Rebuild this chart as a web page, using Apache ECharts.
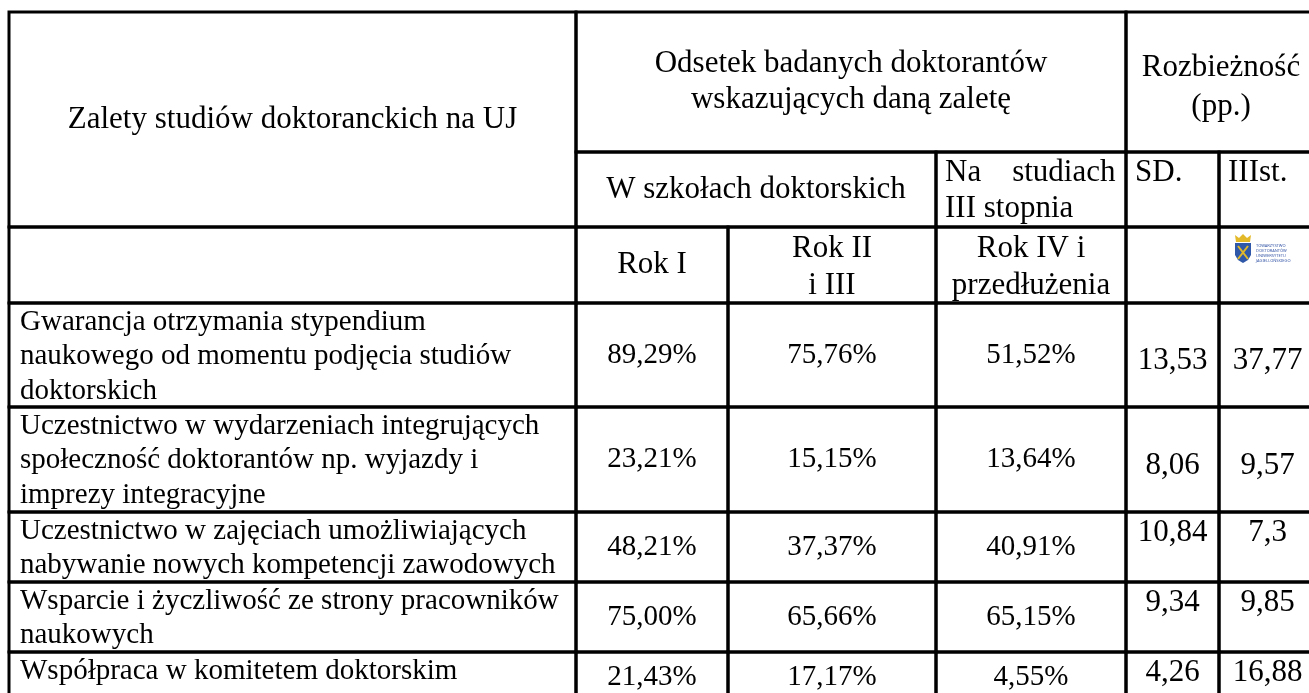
<!DOCTYPE html>
<html>
<head>
<meta charset="utf-8">
<script src="https://cdn.jsdelivr.net/npm/echarts@6/dist/echarts.min.js"></script>
<style>
  html, body { margin: 0; padding: 0; background: #fff; }
  #main { width: 1309px; height: 693px; }
</style>
</head>
<body>
<div id="main"></div>
<script>
// naglowki tabeli
var headTop = ['Zalety studiów doktoranckich na UJ', 'Odsetek badanych doktorantów\nwskazujących daną zaletę', 'Rozbieżność\n(pp.)'];
var headGroup = ['W szkołach doktorskich', 'Na    studiach\nIII stopnia', 'SD.', 'IIIst.'];
var headYear = ['Rok I', 'Rok II\ni III', 'Rok IV i\nprzedłużenia'];

// dane
var advantages = [
	'Gwarancja otrzymania stypendium\nnaukowego od momentu podjęcia studiów\ndoktorskich',
	'Uczestnictwo w wydarzeniach integrujących\nspołeczność doktorantów np. wyjazdy i\nimprezy integracyjne',
	'Uczestnictwo w zajęciach umożliwiających\nnabywanie nowych kompetencji zawodowych',
	'Wsparcie i życzliwość ze strony pracowników\nnaukowych',
	'Współpraca w komitetem doktorskim'
];
var rok1 = [89.29, 23.21, 48.21, 75.00, 21.43];
var rok23 = [75.76, 15.15, 37.37, 65.66, 17.17];
var rok4 = [51.52, 13.64, 40.91, 65.15, 4.55];
var diffSD = [13.53, 8.06, 10.84, 9.34, 4.26];
var diffIII = [37.77, 9.57, 7.3, 9.85, 16.88];

// uklad (krawedzie kolumn i wierszy w jednostkach osi)
var colEdges = [9, 576, 728, 936, 1126, 1219, 1316];
var rowEdges = [12, 152, 227, 303, 407, 512, 582, 652, 702];
var diffAlign = ['middle', 'middle', 'top', 'top', 'top'];

var FONT = '"Liberation Serif", "Times New Roman", serif';

function pct(v) { return v.toFixed(2).replace('.', ',') + '%'; }
function num(v) { return String(v).replace('.', ','); }

var cells = [];
function cell(c0, c1, r0, r1, text, opt) {
	opt = opt || {};
	cells.push({
		x0: colEdges[c0], x1: colEdges[c1], y0: rowEdges[r0], y1: rowEdges[r1],
		text: text,
		align: opt.align || 'center',
		vAlign: opt.vAlign || 'middle',
		size: opt.size || 29,
		lh: opt.lh || 35,
		padX: opt.padX || 0,
		padY: opt.padY || 0
	});
}

// wiersze naglowka
cell(0, 1, 0, 2, headTop[0], {size: 31});
cell(1, 4, 0, 1, headTop[1], {size: 31, lh: 36});
cell(4, 6, 0, 1, headTop[2], {size: 31, lh: 39, padY: 5});
cell(1, 3, 1, 2, headGroup[0], {size: 31});
cell(3, 4, 1, 2, headGroup[1], {size: 31, align: 'left', vAlign: 'top', padX: 9, padY: 3, lh: 36});
cell(4, 5, 1, 2, headGroup[2], {size: 31, align: 'left', vAlign: 'top', padX: 9, padY: 3, lh: 36});
cell(5, 6, 1, 2, headGroup[3], {size: 31, align: 'left', vAlign: 'top', padX: 9, padY: 3, lh: 36});
cell(0, 1, 2, 3, '');
cell(1, 2, 2, 3, headYear[0], {size: 31});
cell(2, 3, 2, 3, headYear[1], {size: 31, lh: 37, padY: 2});
cell(3, 4, 2, 3, headYear[2], {size: 31, lh: 37, padY: 2});
cell(4, 5, 2, 3, '');
cell(5, 6, 2, 3, '');

// wiersze danych
for (var i = 0; i < advantages.length; i++) {
	var r = 3 + i;
	cell(0, 1, r, r + 1, advantages[i], {align: 'left', vAlign: 'top', padX: 11, padY: 2, lh: 34.5});
	cell(1, 2, r, r + 1, pct(rok1[i]));
	cell(2, 3, r, r + 1, pct(rok23[i]));
	cell(3, 4, r, r + 1, pct(rok4[i]));
	cell(4, 5, r, r + 1, num(diffSD[i]), {size: 31, vAlign: diffAlign[i], padY: diffAlign[i] == 'top' ? 3 : 6});
	cell(5, 6, r, r + 1, num(diffIII[i]), {size: 31, vAlign: diffAlign[i], padY: diffAlign[i] == 'top' ? 3 : 6});
}

var seriesData = [];
for (var k = 0; k < cells.length; k++) {
	seriesData.push([cells[k].x0, cells[k].y0, cells[k].x1, cells[k].y1]);
}

function renderCell(params, api) {
	var c = cells[params.dataIndex];
	var p0 = api.coord([api.value(0), api.value(1)]);
	var p1 = api.coord([api.value(2), api.value(3)]);
	var tx, ty;
	if (c.align == 'left') tx = p0[0] + c.padX;
	else tx = (p0[0] + p1[0]) / 2;
	if (c.vAlign == 'top') ty = p0[1] + c.padY;
	else ty = (p0[1] + p1[1]) / 2 + c.padY;
	return {
		type: 'group',
		children: [{
			type: 'rect',
			shape: {x: p0[0], y: p0[1], width: p1[0] - p0[0], height: p1[1] - p0[1]},
			style: {fill: 'none', stroke: '#000', lineWidth: 3}
		}, {
			type: 'text',
			style: {
				text: c.text, x: tx, y: ty,
				fill: '#000',
				fontFamily: FONT, fontSize: c.size,
				lineHeight: c.lh,
				align: c.align, verticalAlign: c.vAlign
			}
		}]
	};
}

var myChart = echarts.init(document.getElementById('main'));
var option = {
	backgroundColor: '#fff',
	animation: false,
	grid: {left: 0, right: 0, top: 0, bottom: 0},
	xAxis: {type: 'value', min: 0, max: 1309, show: false},
	yAxis: {type: 'value', min: 0, max: 693, inverse: true, show: false},
	series: [{
		type: 'custom',
		renderItem: renderCell,
		clip: false,
		data: seriesData
	}],
	// logo TDUJ w naglowku
	graphic: [{
		type: 'group',
		x: 1235,
		y: 234,
		children: [{
			type: 'polygon',
			shape: {points: [[1, 8], [0, 1], [4, 4], [8, 0], [12, 4], [16, 1], [15, 8]]},
			style: {fill: '#e3b92a'}
		}, {
			type: 'polygon',
			shape: {points: [[0, 9], [16, 9], [16, 21], [13, 26], [8, 29], [3, 26], [0, 21]]},
			style: {fill: '#2f58a8'}
		}, {
			type: 'line',
			shape: {x1: 3, y1: 12, x2: 13, y2: 25},
			style: {stroke: '#e3b92a', lineWidth: 2}
		}, {
			type: 'line',
			shape: {x1: 13, y1: 12, x2: 3, y2: 25},
			style: {stroke: '#e3b92a', lineWidth: 2}
		}, {
			type: 'text',
			x: 21, y: 9,
			style: {
				text: 'TOWARZYSTWO\nDOKTORANTÓW\nUNIWERSYTETU\nJAGIELLOŃSKIEGO',
				fill: '#3a5aa8', fontSize: 4, lineHeight: 5, fontFamily: 'Noto Sans'
			}
		}]
	}]
};
myChart.setOption(option);
</script>
</body>
</html>
